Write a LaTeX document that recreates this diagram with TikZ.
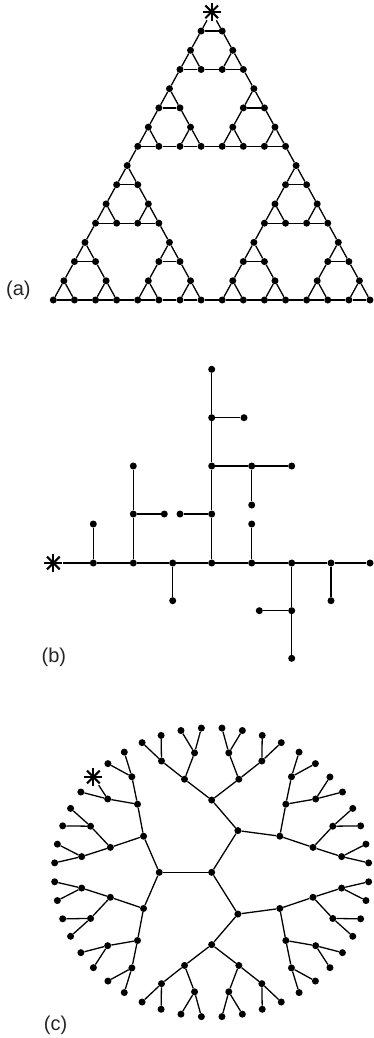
\documentclass[tikz,border=0pt]{standalone}
\usepackage{fontspec}
\setmainfont{Liberation Sans}
\newcommand\pcnt[1]{\ifcase\numexpr#1\relax 0\or1\or1\or2\or1\or2\or2\or3\or1\or2\or2\or3\or2\or3\or3\or4\fi}
\newcommand\hanok[2]{\numexpr\pcnt{#1}+\pcnt{#2}+\pcnt{15-(#1)-(#2)}\relax}
\tikzset{
  dot/.style={circle, fill=black, draw=none, inner sep=0pt, minimum size=7pt},
  edge/.style={line width=1.3pt, black},
  starnode/.style={circle, inner sep=0pt, minimum size=19pt,
    path picture={\foreach \sa in {0,45,90,135}
      \draw[line width=2.1pt] (path picture bounding box.center) ++(\sa:9pt) -- ++(\sa+180:18pt);}},
  lab/.style={font=\fontsize{20}{24}\selectfont, anchor=base west, inner sep=0pt, text=black!85}
}
\begin{document}
\begin{tikzpicture}[x=1pt, y=-1pt]
\useasboundingbox (0,0) rectangle (373,1038);

% ---------------- (a) Hanoi / Sierpinski graph ----------------
\begin{scope}[shift={(53.33,300)}, x={(21.11pt,0pt)}, y={(0pt,19.21pt)}]
  \foreach \a in {0,...,15}{%
    \foreach \b in {0,...,15}{%
      \ifnum\numexpr\a+\b\relax<16
        \ifnum\hanok{\a}{\b}=4
          \ifnum\b=15
            \node[starnode] (h-\a-\b) at ({\a+\b/2},\b) {};
          \else
            \node[dot] (h-\a-\b) at ({\a+\b/2},\b) {};
          \fi
        \fi
      \fi
    }}
  \foreach \a in {0,...,15}{%
    \foreach \b in {0,...,15}{%
      \ifnum\numexpr\a+\b\relax<16
        \ifnum\hanok{\a}{\b}=4
          \pgfmathtruncatemacro\ap{\a+1}%
          \pgfmathtruncatemacro\am{\a-1}%
          \pgfmathtruncatemacro\bp{\b+1}%
          \ifnum\numexpr\a+\b\relax<15
            \ifnum\hanok{\ap}{\b}=4 \draw[edge] (h-\a-\b) -- (h-\ap-\b);\fi
            \ifnum\hanok{\a}{\bp}=4 \draw[edge] (h-\a-\b) -- (h-\a-\bp);\fi
          \fi
          \ifnum\a>0
            \ifnum\hanok{\am}{\bp}=4 \draw[edge] (h-\a-\b) -- (h-\am-\bp);\fi
          \fi
        \fi
      \fi
    }}
\end{scope}
\node[lab] (la) at (6,295) {(a)};

% ---------------- (b) tree ----------------
\node[starnode] (b0) at (53.3,563) {};
\node[dot] (b1) at (93.3,563) {};
\node[dot] (b2) at (133.3,563) {};
\node[dot] (b3) at (172.7,563) {};
\node[dot] (b4) at (211.7,563) {};
\node[dot] (b5) at (251.7,563) {};
\node[dot] (b6) at (291.7,563) {};
\node[dot] (b7) at (331,563) {};
\node[dot] (b8) at (370,563) {};
\node[dot] (b1u) at (93.3,524) {};
\node[dot] (b2u) at (133.3,514) {};
\node[dot] (b2uu) at (133.3,466) {};
\node[dot] (b2ur) at (164.3,514) {};
\node[dot] (b3d) at (172.7,600.7) {};
\node[dot] (b4u) at (211.7,514) {};
\node[dot] (b4ul) at (180,514) {};
\node[dot] (b4uu) at (211.7,466) {};
\node[dot] (b4u3) at (211.7,417.7) {};
\node[dot] (b4u4) at (211.7,369.3) {};
\node[dot] (b4u3r) at (244,417.7) {};
\node[dot] (b4r1) at (251.7,466) {};
\node[dot] (b4r2) at (291.7,466) {};
\node[dot] (b4r1d) at (251.7,505) {};
\node[dot] (b5u) at (251.7,524) {};
\node[dot] (b6d) at (291.7,610.7) {};
\node[dot] (b6dd) at (291.7,658.3) {};
\node[dot] (b6dl) at (259.3,610.7) {};
\node[dot] (b7d) at (331,600.7) {};
\draw[edge] (b0) -- (b1) -- (b2) -- (b3) -- (b4) -- (b5) -- (b6) -- (b7) -- (b8);
\draw[edge] (b1) -- (b1u);
\draw[edge] (b2) -- (b2u) -- (b2uu);
\draw[edge] (b2u) -- (b2ur);
\draw[edge] (b3) -- (b3d);
\draw[edge] (b4) -- (b4u) -- (b4uu) -- (b4u3) -- (b4u4);
\draw[edge] (b4u) -- (b4ul);
\draw[edge] (b4u3) -- (b4u3r);
\draw[edge] (b4uu) -- (b4r1) -- (b4r2);
\draw[edge] (b4r1) -- (b4r1d);
\draw[edge] (b5) -- (b5u);
\draw[edge] (b6) -- (b6d) -- (b6dd);
\draw[edge] (b6d) -- (b6dl);
\draw[edge] (b7) -- (b7d);
\node[lab] (lb) at (41.5,662.4) {(b)};

% ---------------- (c) Cayley tree ----------------
\begin{scope}[shift={(211.67,872.33)}, x={(26.22pt,0pt)}, y={(0pt,24.1pt)}]
  \node[dot] (c0) at (0,0) {};
  \foreach \g in {1,...,5}{%
    \pgfmathtruncatemacro\n{3*2^(\g-1)-1}%
    \pgfmathsetmacro\w{120/2^(\g-1)}%
    \pgfmathtruncatemacro\rad{\g+1}%
    \pgfmathtruncatemacro\gm{\g-1}%
    \foreach \k in {0,...,\n}{%
      \pgfmathsetmacro\ang{120+(\k+0.5)*\w}%
      \pgfmathtruncatemacro\pk{floor(\k/2)}%
      \ifnum\g=5 \ifnum\k=2
        \node[starnode] (c-\g-\k) at (\ang:\rad) {};
      \else
        \node[dot] (c-\g-\k) at (\ang:\rad) {};
      \fi\else
        \node[dot] (c-\g-\k) at (\ang:\rad) {};
      \fi
      \ifnum\g=1
        \draw[edge] (c0) -- (c-\g-\k);
      \else
        \draw[edge] (c-\gm-\pk) -- (c-\g-\k);
      \fi
    }}
\end{scope}
\node[lab] (lc) at (43.7,1030.7) {(c)};
\end{tikzpicture}
\end{document}
